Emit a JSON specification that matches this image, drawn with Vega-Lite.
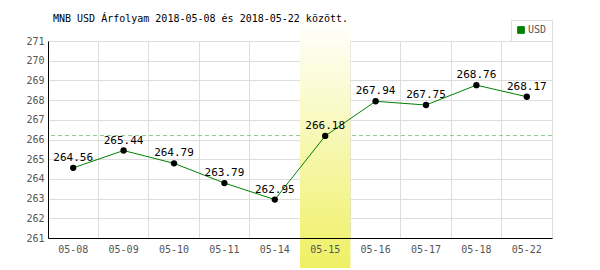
{
  "$schema": "https://vega.github.io/schema/vega-lite/v6.json",
  "width": 504,
  "height": 197,
  "autosize": {"type": "none"},
  "padding": {"left": 48, "top": 41, "right": 48, "bottom": 32},
  "background": "white",
  "view": {"stroke": "#dddddd", "strokeWidth": 1},
  "title": {
    "text": "MNB USD Árfolyam 2018-05-08 és 2018-05-22 között.",
    "anchor": "start",
    "frame": "group",
    "dx": 5,
    "offset": -5,
    "font": "DejaVu Sans Mono",
    "fontSize": 10,
    "fontWeight": "normal",
    "color": "#000000"
  },
  "datasets": {
    "rates": [
      {"d": "05-08", "v": 264.56, "s": "USD"},
      {"d": "05-09", "v": 265.44, "s": "USD"},
      {"d": "05-10", "v": 264.79, "s": "USD"},
      {"d": "05-11", "v": 263.79, "s": "USD"},
      {"d": "05-14", "v": 262.95, "s": "USD"},
      {"d": "05-15", "v": 266.18, "s": "USD"},
      {"d": "05-16", "v": 267.94, "s": "USD"},
      {"d": "05-17", "v": 267.75, "s": "USD"},
      {"d": "05-18", "v": 268.76, "s": "USD"},
      {"d": "05-22", "v": 268.17, "s": "USD"}
    ],
    "band": [{"d": "05-15", "v": 259.48, "hi": 272.1}],
    "ref": [{"v": 266.2}]
  },
  "encoding": {
    "y": {
      "field": "v", "type": "quantitative",
      "scale": {"domain": [261, 271], "nice": false, "zero": false},
      "axis": {
        "title": null,
        "values": [261, 262, 263, 264, 265, 266, 267, 268, 269, 270, 271],
        "grid": true,
        "gridColor": "#dddddd",
        "domainColor": "#000000",
        "ticks": false,
        "labelPadding": 4,
        "labelFont": "DejaVu Sans Mono",
        "labelFontSize": 10,
        "labelColor": "#555555",
        "labelOverlap": false,
        "zindex": 0
      }
    }
  },
  "resolve": {"axis": {"x": "independent"}},
  "layer": [
    {
      "data": {"name": "ref"},
      "mark": {"type": "rule", "color": "#8fc88f", "strokeDash": [4, 3], "strokeWidth": 1}
    },
    {
      "data": {"name": "band"},
      "mark": {
        "type": "rect",
        "clip": false,
        "color": {
          "gradient": "linear",
          "x1": 0, "y1": 0, "x2": 0, "y2": 1,
          "stops": [
            {"offset": 0, "color": "#ffffff"},
            {"offset": 1, "color": "#eff064"}
          ]
        }
      },
      "encoding": {
        "x": {
          "field": "d", "type": "ordinal",
          "scale": {
            "domain": ["05-08", "05-09", "05-10", "05-11", "05-14", "05-15", "05-16", "05-17", "05-18", "05-22"],
            "paddingInner": 0, "paddingOuter": 0
          },
          "axis": {
            "orient": "bottom",
            "title": null,
            "grid": true,
            "gridColor": "#dddddd",
            "bandPosition": 0,
            "labels": false,
            "ticks": false,
            "domain": false,
            "zindex": 0
          }
        },
        "y2": {"field": "hi"}
      }
    },
    {
      "data": {"name": "rates"},
      "mark": {"type": "line", "strokeWidth": 1},
      "encoding": {
        "x": {
          "field": "d", "type": "ordinal",
          "axis": {
            "orient": "bottom",
            "title": null,
            "labelAngle": 0,
            "grid": false,
            "ticks": false,
            "domainColor": "#000000",
            "labelPadding": 6,
            "labelFont": "DejaVu Sans Mono",
            "labelFontSize": 10,
            "labelColor": "#555555",
            "zindex": 1
          }
        },
        "color": {
          "field": "s",
          "type": "nominal",
          "scale": {"range": ["#008000"]},
          "legend": {
            "title": null,
            "orient": "none",
            "legendX": 463,
            "legendY": -21,
            "padding": 5,
            "strokeColor": "#dddddd",
            "fillColor": "#ffffff",
            "symbolType": "square",
            "symbolSize": 45,
            "symbolStrokeWidth": 1,
            "labelFont": "DejaVu Sans Mono",
            "labelFontSize": 10,
            "labelColor": "#555555",
            "labelOffset": 2,
            "encode": {
              "symbols": {"update": {"fill": {"value": "#008000"}, "stroke": {"value": "#555555"}}}
            }
          }
        }
      }
    },
    {
      "data": {"name": "rates"},
      "mark": {"type": "point", "filled": true, "color": "#000000", "size": 40, "opacity": 1},
      "encoding": {"x": {"field": "d", "type": "ordinal", "axis": null}}
    },
    {
      "data": {"name": "rates"},
      "mark": {"type": "text", "dy": -10, "font": "DejaVu Sans Mono", "fontSize": 11, "color": "#000000"},
      "encoding": {
        "x": {"field": "d", "type": "ordinal", "axis": null},
        "text": {"field": "v", "type": "quantitative", "format": ".2f"}
      }
    }
  ]
}
